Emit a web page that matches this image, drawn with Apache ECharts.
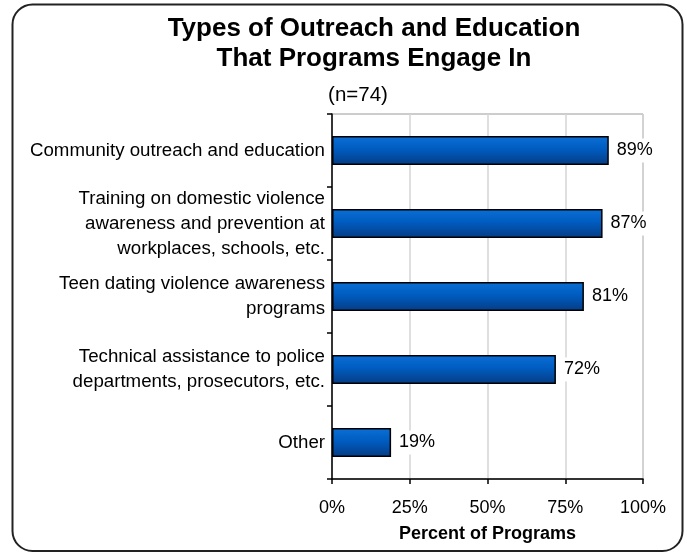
<!DOCTYPE html>
<html>
<head>
<meta charset="utf-8">
<script src="https://cdn.jsdelivr.net/npm/echarts@6/dist/echarts.min.js"></script>
<style>
  html, body { margin: 0; padding: 0; background: #fff; }
  #chart { width: 687px; height: 553px; }
</style>
</head>
<body>
<div id="chart"></div>
<script>
// Outreach / education activity categories (top to bottom)
const categories = [
  'Community outreach and education',
  'Training on domestic violence\nawareness and prevention at\nworkplaces, schools, etc.',
  'Teen dating violence awareness\nprograms',
  'Technical assistance to police\ndepartments, prosecutors, etc.',
  'Other'
];
// Percent of programs engaging in each activity
const percentValues = [89, 87, 81, 72, 19];
// Tick values along the percent axis
const percentTicks = [0, 25, 50, 75, 100];

const FONT = '"Liberation Sans", Arial, sans-serif';

const chart = echarts.init(document.getElementById('chart'), null, { renderer: 'canvas' });

chart.setOption({
  animation: false,
  backgroundColor: '#fff',
  textStyle: { fontFamily: FONT },
  title: [
    {
      text: 'Types of Outreach and Education\nThat Programs Engage In',
      left: 369, top: 9, textAlign: 'center',
      textStyle: { fontFamily: FONT, fontSize: 26, fontWeight: 'bold', color: '#000', lineHeight: 30 }
    },
    {
      text: '(n=74)',
      left: 353, top: 80, textAlign: 'center',
      textStyle: { fontFamily: FONT, fontSize: 20.5, fontWeight: 'normal', color: '#000' }
    }
  ],
  graphic: [
    {
      type: 'rect',
      shape: { x: 12.5, y: 4.5, width: 670, height: 546.5, r: 20 },
      style: { fill: 'none', stroke: '#222', lineWidth: 2 },
      z: 100
    }
  ],
  grid: {
    left: 332, right: 44, top: 114, bottom: 74,
    show: true, borderColor: '#9a9a9a', borderWidth: 1, backgroundColor: 'transparent'
  },
  xAxis: {
    type: 'value',
    min: percentTicks[0],
    max: percentTicks[percentTicks.length - 1],
    interval: percentTicks[1] - percentTicks[0],
    name: 'Percent of Programs',
    nameLocation: 'middle',
    nameGap: 46,
    nameTextStyle: { fontFamily: FONT, fontSize: 18, fontWeight: 'bold', color: '#000' },
    axisLine: { show: true, lineStyle: { color: '#000', width: 1.5 } },
    axisTick: { show: true, length: 5, lineStyle: { color: '#000', width: 1.5 } },
    axisLabel: {
      fontFamily: FONT, fontSize: 18, color: '#000', margin: 20,
      formatter: v => v + '%'
    },
    splitLine: { show: true, lineStyle: { color: '#d4d4d4', width: 1.5 } }
  },
  yAxis: {
    type: 'category',
    inverse: true,
    data: categories,
    axisLine: { show: true, lineStyle: { color: '#000', width: 1.5 } },
    axisTick: { show: true, length: 5, lineStyle: { color: '#000', width: 1.5 } },
    axisLabel: {
      fontFamily: FONT, fontSize: 18.7, color: '#000', margin: 7,
      lineHeight: 25, align: 'right'
    },
    splitLine: { show: false }
  },
  series: [
    {
      type: 'bar',
      data: percentValues,
      barWidth: 29,
      itemStyle: {
        color: {
          type: 'linear', x: 0, y: 0, x2: 0, y2: 1,
          colorStops: [
            { offset: 0, color: '#0b6fd6' },
            { offset: 0.45, color: '#005cc0' },
            { offset: 1, color: '#063c84' }
          ]
        },
        borderColor: '#000',
        borderWidth: 1.5
      },
      label: {
        show: true,
        position: 'right',
        distance: 6,
        formatter: p => p.value + '%',
        fontFamily: FONT, fontSize: 18, color: '#000',
        backgroundColor: '#fff',
        padding: [3, 2]
      }
    }
  ]
});
</script>
</body>
</html>
